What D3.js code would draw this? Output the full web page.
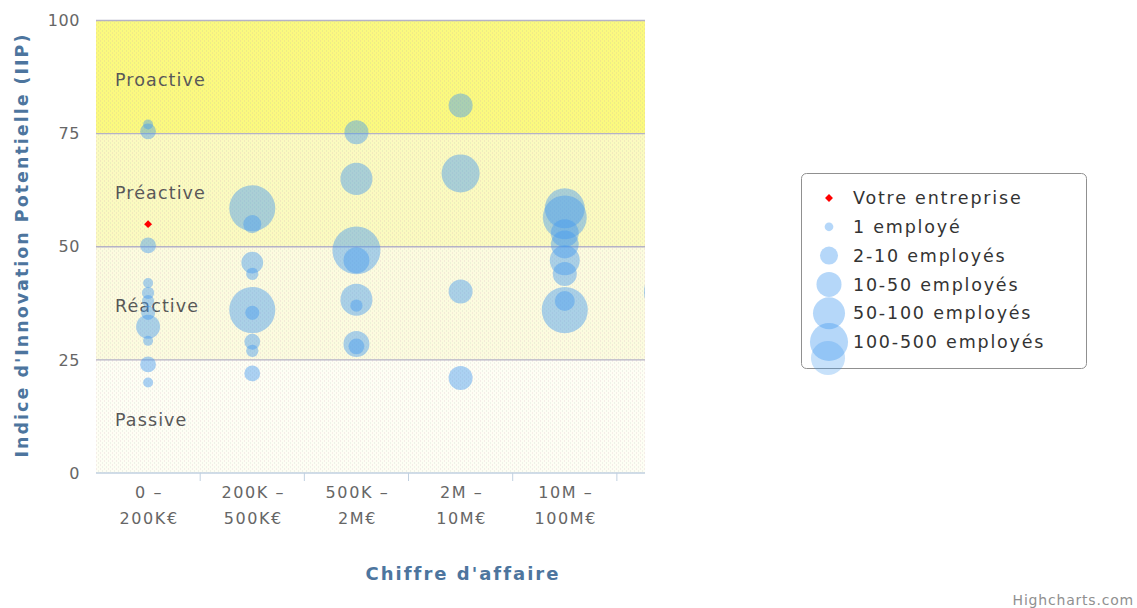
<!DOCTYPE html>
<html>
<head>
<meta charset="utf-8">
<script src="https://cdn.jsdelivr.net/npm/d3@7"></script>
<style>
  body { margin: 0; background: #fff; }
  text { font-family: "DejaVu Sans", Verdana, sans-serif; }
</style>
</head>
<body>
<script>
// Categories of the x axis (two lines each)
var categories = [["0 –", "200K€"], ["200K –", "500K€"], ["500K –", "2M€"], ["2M –", "10M€"], ["10M –", "100M€"]];

// Y axis ticks and background bands
var yTicks = [0, 25, 50, 75, 100];
var bandFrom = [75, 50, 25, 0];
var bandTo = [100, 75, 50, 25];
var bandLabels = ["Proactive", "Préactive", "Réactive", "Passive"];
var bandColors = ["#fbf97f", "#fbfac0", "#fcfbdf", "#fefef4"];

// Bubbles: category index, IIP value, size (z)
var bubbleCat = [0, 0, 0, 0, 0, 0, 0, 0, 0, 0, 0,
  1, 1, 1, 1, 1, 1, 1, 1, 1,
  2, 2, 2, 2, 2, 2, 2, 2,
  3, 3, 3, 3,
  4, 4, 4, 4, 4, 4, 4, 4,
  5];
var bubbleIIP = [77, 75.5, 50.3, 42, 39.8, 38, 35.4, 32.3, 29.2, 24, 20,
  58.5, 55, 46.5, 44, 36, 35.4, 29, 27, 22,
  75.3, 65, 49.2, 47, 38.3, 37, 28.5, 28,
  81.2, 66.2, 40.1, 21,
  58.5, 56.5, 53, 50.5, 47, 44, 36, 38,
  40];
var bubbleSize = [4, 10, 10, 4, 6, 6, 8, 23, 4, 10, 4,
  85, 13, 19, 6, 85, 8, 10, 6, 10,
  23, 41, 92, 27, 41, 6, 27, 10,
  23, 58, 23, 23,
  64, 77, 31, 31, 36, 23, 85, 16,
  100];

// "Votre entreprise"
var companyCat = [0];
var companyIIP = [55];

// Legend
var legendNames = ["Votre entreprise", "1 employé", "2-10 employés", "10-50 employés", "50-100 employés", "100-500 employés"];
var legendSizes = [0, 3, 13, 25, 41, 58];

var width = 1137, height = 608;
var margin = { top: 20.5, left: 96 };
var plotW = 549, plotH = 452.5;

var svg = d3.select("body").append("svg")
  .attr("width", width)
  .attr("height", height);

var defs = svg.append("defs");
defs.append("clipPath").attr("id", "plotclip")
  .append("rect").attr("width", plotW).attr("height", plotH);

// dotted texture like the original image
var pat = defs.append("pattern").attr("id", "dots")
  .attr("width", 4).attr("height", 4).attr("patternUnits", "userSpaceOnUse");
pat.append("rect").attr("x", 0).attr("y", 0).attr("width", 1).attr("height", 1).attr("fill", "#c89ab0").attr("opacity", 0.35);
pat.append("rect").attr("x", 2).attr("y", 2).attr("width", 1).attr("height", 1).attr("fill", "#9ab0a8").attr("opacity", 0.3);

var chart = svg.append("g")
  .attr("transform", `translate(${margin.left}, ${margin.top})`);

var x = d3.scaleLinear().domain([-0.5, 4.77]).range([0, plotW]);
var y = d3.scaleLinear().domain([0, 100]).range([plotH, 0]);
var r = d3.scaleSqrt().domain([0, 100]).range([0, 25]);

// bands
bandFrom.forEach(function(f, i) {
  chart.append("rect")
    .attr("x", 0).attr("width", plotW)
    .attr("y", y(bandTo[i]))
    .attr("height", y(f) - y(bandTo[i]))
    .attr("fill", bandColors[i]);
  chart.append("text")
    .attr("x", 19)
    .attr("y", (y(f) + y(bandTo[i])) / 2 + 3)
    .attr("dy", "0.35em")
    .attr("font-size", 17.5)
    .attr("letter-spacing", 1.1)
    .attr("fill", "#555")
    .text(bandLabels[i]);
});
chart.append("rect").attr("width", plotW).attr("height", plotH).attr("fill", "url(#dots)");

// grid lines
chart.append("g").selectAll("line")
  .data(yTicks.filter(d => d > 0))
  .join("line")
  .attr("x1", 0).attr("x2", plotW)
  .attr("y1", d => y(d)).attr("y2", d => y(d))
  .attr("stroke", "#b5b2c6").attr("stroke-width", 1.3);

// y axis labels
var leftAxis = d3.axisLeft(y).tickValues(yTicks).tickSize(0).tickPadding(16);
chart.append("g").call(leftAxis)
  .call(g => g.select(".domain").remove())
  .selectAll("text")
  .attr("font-size", 16)
  .attr("letter-spacing", 0.6)
  .attr("fill", "#666")
  .style("font-family", "DejaVu Sans, sans-serif");

// x axis
chart.append("line")
  .attr("x1", 0).attr("x2", plotW)
  .attr("y1", plotH).attr("y2", plotH)
  .attr("stroke", "#c0d0e0").attr("stroke-width", 1.5);
chart.append("g").selectAll("line")
  .data(categories.map((c, i) => i + 0.5))
  .join("line")
  .attr("x1", d => x(d)).attr("x2", d => x(d))
  .attr("y1", plotH).attr("y2", plotH + 8)
  .attr("stroke", "#c0d0e0");
var xl = chart.append("g").selectAll("text")
  .data(categories)
  .join("text")
  .attr("text-anchor", "middle")
  .attr("font-size", 16)
  .attr("letter-spacing", 1.6)
  .attr("fill", "#666")
  .attr("transform", (d, i) => `translate(${x(i) + 1}, ${plotH + 25})`);
xl.append("tspan").attr("x", 0).attr("y", 0).text(d => d[0]);
xl.append("tspan").attr("x", 0).attr("y", 26).text(d => d[1]);

// bubbles
var bubbles = bubbleCat.map((c, i) => ({ cat: c, v: bubbleIIP[i], z: bubbleSize[i] }));
chart.append("g").attr("clip-path", "url(#plotclip)")
  .selectAll("circle")
  .data(bubbles)
  .join("circle")
  .attr("cx", d => x(d.cat))
  .attr("cy", d => y(d.v))
  .attr("r", d => r(d.z))
  .attr("fill", "rgb(70,155,240)")
  .attr("fill-opacity", 0.45);

// company marker
chart.append("g").selectAll("path")
  .data(companyCat.map((c, i) => ({ cat: c, v: companyIIP[i] })))
  .join("path")
  .attr("d", d3.symbol().type(d3.symbolDiamond2).size(40))
  .attr("transform", d => `translate(${x(d.cat)}, ${y(d.v)})`)
  .attr("fill", "#ff0000");

// axis titles
svg.append("text")
  .attr("transform", "translate(28, 245) rotate(-90)")
  .attr("text-anchor", "middle")
  .attr("font-size", 17.5)
  .attr("font-weight", "bold")
  .attr("letter-spacing", 2)
  .attr("fill", "#4d759e")
  .text("Indice d'Innovation Potentielle (IIP)");
svg.append("text")
  .attr("x", 463).attr("y", 580)
  .attr("text-anchor", "middle")
  .attr("font-size", 18)
  .attr("font-weight", "bold")
  .attr("letter-spacing", 2)
  .attr("fill", "#4d759e")
  .text("Chiffre d'affaire");

// legend
var legend = svg.append("g").attr("transform", "translate(801, 173)");
legend.append("rect")
  .attr("x", 0.5).attr("y", 0.5)
  .attr("width", 285).attr("height", 195)
  .attr("rx", 5)
  .attr("fill", "#fff")
  .attr("stroke", "#909090");
legendNames.forEach(function(name, i) {
  var ly = 25 + i * 28.8;
  if (i === 0) {
    legend.append("path")
      .attr("d", d3.symbol().type(d3.symbolDiamond2).size(40))
      .attr("transform", `translate(28, ${ly})`)
      .attr("fill", "#ff0000");
  } else {
    legend.append("circle")
      .attr("cx", 28).attr("cy", ly)
      .attr("r", r(legendSizes[i]))
      .attr("fill", "rgb(70,155,240)")
      .attr("fill-opacity", 0.4);
    if (i === legendNames.length - 1) {
      legend.append("circle")
        .attr("cx", 27).attr("cy", ly + 16)
        .attr("r", r(legendSizes[i]) - 2)
        .attr("fill", "rgb(70,155,240)")
        .attr("fill-opacity", 0.3);
    }
  }
  legend.append("text")
    .attr("x", 52).attr("y", ly)
    .attr("dy", "0.35em")
    .attr("font-size", 17.5)
    .attr("letter-spacing", 1.8)
    .attr("fill", "#333")
    .text(name);
});

// credits
svg.append("text")
  .attr("x", 1134).attr("y", 605)
  .attr("text-anchor", "end")
  .attr("font-size", 14)
  .attr("letter-spacing", 0.8)
  .attr("fill", "#909090")
  .text("Highcharts.com");
</script>
</body>
</html>
